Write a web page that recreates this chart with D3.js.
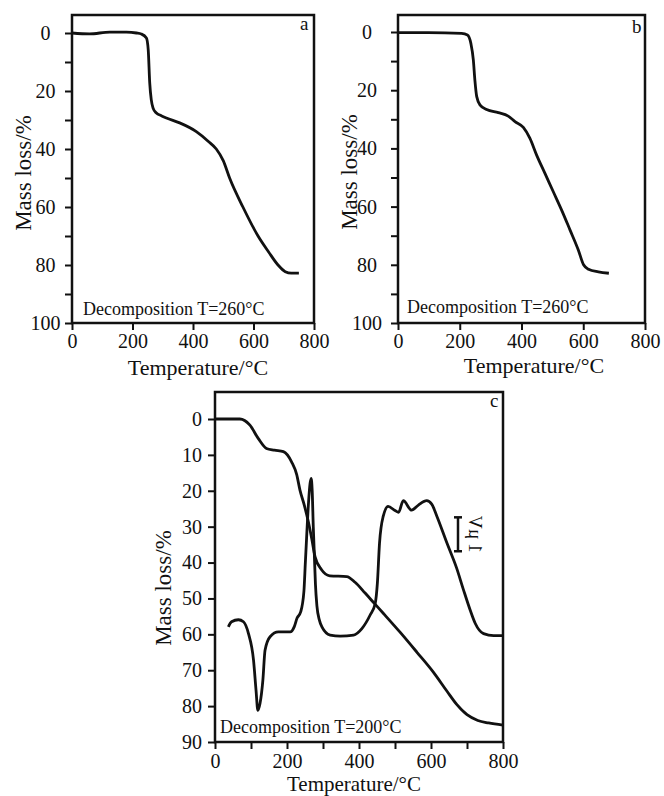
<!DOCTYPE html>
<html>
<head>
<meta charset="utf-8">
<script src="https://cdn.jsdelivr.net/npm/d3@7"></script>
<style>
  body { margin: 0; background: #fff; }
  svg text { font-family: "Liberation Serif", "Times New Roman", serif; fill: #111; }
</style>
</head>
<body>
<svg id="chart" width="664" height="796"></svg>
<script>
// panel a: TG curve
const aTemp = [0, 58, 125, 180, 213, 229, 246, 252, 257, 262, 268, 279, 295, 312, 356, 411, 450, 477, 500, 521, 565, 615, 650, 681, 705, 725, 750];
const aMass = [0, 0.3, -0.3, -0.3, 0, 0.35, 1.7, 5.8, 17.3, 23, 25.9, 27.6, 28.5, 29.3, 31, 34, 37.3, 40, 44, 50, 60, 70, 75.5, 80, 82.3, 82.8, 82.8];

// panel b: TG curve
const bTemp = [0, 98, 206, 225, 236, 244, 249, 255, 266, 287, 325, 357, 379, 406, 427, 449, 476, 503, 530, 557, 584, 601, 617, 649, 683];
const bMass = [0.2, 0.2, 0.5, 1, 3.9, 9.6, 16.5, 22.2, 25.1, 26.6, 27.7, 28.9, 30.8, 32.8, 36.5, 42.3, 48.6, 54.9, 61.2, 68, 74.9, 80, 81.5, 82.4, 82.9];

// panel c: TG curve
const cTemp = [0, 69, 97, 120, 143, 165, 190, 213, 227, 236, 248, 259, 269, 278, 296, 319, 366, 389, 417, 442, 468, 514, 561, 607, 644, 672, 700, 730, 760, 800];
const cMass = [0, 0, 1.7, 5.4, 8.2, 8.7, 9.1, 12, 15.5, 19.8, 24, 28.5, 33.5, 38.4, 42, 43.7, 43.9, 45.5, 48.5, 51.3, 54.2, 59.4, 65, 70.6, 75.8, 79.6, 82.4, 84, 84.7, 85.3];

// panel c: DTA signal, microvolts (arbitrary zero)
const dtaTemp = [37, 46, 65, 79, 93, 107, 114, 119, 125, 133, 139, 153, 176, 209, 220, 228, 238, 247, 251, 255, 260, 264, 267, 270, 273, 276, 279, 283, 290, 297, 320, 348, 385, 408, 431, 445, 451, 457, 467, 481, 500, 510, 523, 546, 565, 588, 602, 616, 644, 671, 690, 709, 723, 746, 774, 800];
const dtaUV = [0.22, 0.37, 0.43, 0.37, 0.02, -0.76, -1.65, -2.24, -2.04, -1.35, -0.47, -0.07, 0.07, 0.07, 0.22, 0.48, 0.66, 1.27, 2.12, 2.96, 3.92, 4.44, 4.6, 4.23, 3.17, 2.33, 1.48, 0.85, 0.42, 0.22, -0.02, -0.05, -0.02, 0.17, 0.57, 0.91, 1.5, 2.69, 3.47, 3.77, 3.65, 3.6, 3.94, 3.66, 3.81, 3.94, 3.84, 3.49, 2.7, 1.96, 1.32, 0.71, 0.32, 0.02, -0.04, -0.04];

// ticks
const abYTicks = [0, 10, 20, 30, 40, 50, 60, 70, 80, 90, 100];
const abXTicks = [0, 200, 400, 600, 800];
const cYTicks = [0, 10, 20, 30, 40, 50, 60, 70, 80, 90];
const cXTicks = [0, 100, 200, 300, 400, 500, 600, 700, 800];
const scaleBar = [2.45, 3.45];

const svg = d3.select("#chart");

const line = d3.line().curve(d3.curveMonotoneX);

function zip(xs, ys) {
    return xs.map((v, i) => [v, ys[i]]);
}

function drawPanel(p) {
    let x = d3.scaleLinear().domain([0, 800]).range([p.left, p.right]);
    let y = d3.scaleLinear().domain([0, p.ymax]).range([p.y0, p.y1]);
    let g = svg.append("g");

    // y axis
    let yAxis = d3.axisLeft(y).tickValues(p.yTicks).tickSize(7).tickPadding(6)
        .tickFormat(d => (d % p.yLabelStep === 0 ? d : ""));
    let ya = g.append("g").attr("transform", `translate(${p.left},0)`).call(yAxis);
    ya.select(".domain").remove();
    ya.selectAll("line").attr("stroke", "#111").attr("stroke-width", 2);
    ya.selectAll("text").style("font-size", "20px").attr("fill", "#111");
    if (p.yLabelCenter) {
        ya.selectAll("text").attr("text-anchor", "middle").attr("x", -p.yLabelCenter);
    }

    // x axis
    let xAxis = d3.axisBottom(x).tickValues(p.xTicks).tickSize(7).tickPadding(p.xPad)
        .tickFormat(d => (d % 200 === 0 ? d : ""));
    let xa = g.append("g").attr("transform", `translate(0,${p.y1})`).call(xAxis);
    xa.select(".domain").remove();
    xa.selectAll("line").attr("stroke", "#111").attr("stroke-width", 2);
    xa.selectAll("text").style("font-size", "20px").attr("fill", "#111");

    // frame
    g.append("rect")
        .attr("x", p.left).attr("y", p.top)
        .attr("width", p.right - p.left).attr("height", p.y1 - p.top)
        .attr("fill", "none").attr("stroke", "#111").attr("stroke-width", 2.5);

    // curves
    p.series.forEach(s => {
        let yy = s.scale ? s.scale(y) : y;
        g.append("path")
            .attr("d", line(s.data.map(d => [x(d[0]), yy(d[1])])))
            .attr("fill", "none").attr("stroke", "#111")
            .attr("stroke-width", 2.8).attr("stroke-linejoin", "round");
    });

    // texts
    g.append("text").attr("x", p.xTitle[0]).attr("y", p.xTitle[1])
        .attr("text-anchor", "middle").style("font-size", p.xTitleSize || "22px").text("Temperature/°C");
    g.append("text")
        .attr("transform", `translate(${p.yTitle[0]},${p.yTitle[1]}) rotate(-90)`)
        .attr("text-anchor", "middle").style("font-size", "23px").text("Mass loss/%");
    g.append("text").attr("x", p.note[0]).attr("y", p.note[1])
        .style("font-size", "18px").text(p.noteText);
    g.append("text").attr("x", p.letter[0]).attr("y", p.letter[1])
        .style("font-size", "19px").text(p.letterText);

    return {x: x, y: y, g: g};
}

drawPanel({
    left: 72, right: 314, top: 15, y0: 33, y1: 323, ymax: 100,
    yTicks: abYTicks, yLabelStep: 20, yLabelCenter: 26.5,
    xTicks: abXTicks, xPad: 4,
    series: [{data: zip(aTemp, aMass)}],
    xTitle: [198, 375], yTitle: [31, 173],
    note: [83, 315], noteText: "Decomposition T=260°C",
    letter: [300, 30], letterText: "a"
});

drawPanel({
    left: 398, right: 645, top: 15, y0: 32, y1: 323, ymax: 100,
    yTicks: abYTicks, yLabelStep: 20, yLabelCenter: 31,
    xTicks: abXTicks, xPad: 4,
    series: [{data: zip(bTemp, bMass)}],
    xTitle: [534, 373], yTitle: [357, 172],
    note: [407, 313], noteText: "Decomposition T=260°C",
    letter: [632, 33], letterText: "b"
});

// DTA is drawn on its own scale: 1 µV spans 9.45 units of the mass axis
let dtaScale = y => d3.scaleLinear().domain([0, 1]).range([y(60), y(60 - 9.45)]);

let c = drawPanel({
    left: 215, right: 503, top: 392, y0: 419, y1: 742, ymax: 90,
    yTicks: cYTicks, yLabelStep: 10, yLabelCenter: 0,
    xTicks: cXTicks, xPad: 4.5,
    series: [{data: zip(cTemp, cMass)}, {data: zip(dtaTemp, dtaUV), scale: dtaScale}],
    xTitle: [354, 791.3], xTitleSize: "21px", yTitle: [171, 588],
    note: [220, 733], noteText: "Decomposition T=200°C",
    letter: [490, 407], letterText: "c"
});

// 1 µV scale bar
let dy = dtaScale(c.y);
let bx = c.x(675);
let bar = c.g.append("g").attr("stroke", "#111").attr("stroke-width", 2.5);
bar.append("line").attr("x1", bx).attr("x2", bx).attr("y1", dy(scaleBar[0])).attr("y2", dy(scaleBar[1]));
scaleBar.forEach(v => {
    bar.append("line").attr("x1", bx - 4).attr("x2", bx + 4).attr("y1", dy(v)).attr("y2", dy(v));
});
c.g.append("text")
    .attr("transform", `translate(469,${(dy(scaleBar[0]) + dy(scaleBar[1])) / 2}) scale(-1,1) rotate(-90)`)
    .attr("text-anchor", "middle").style("font-size", "18px").text("1 µV");
</script>
</body>
</html>
